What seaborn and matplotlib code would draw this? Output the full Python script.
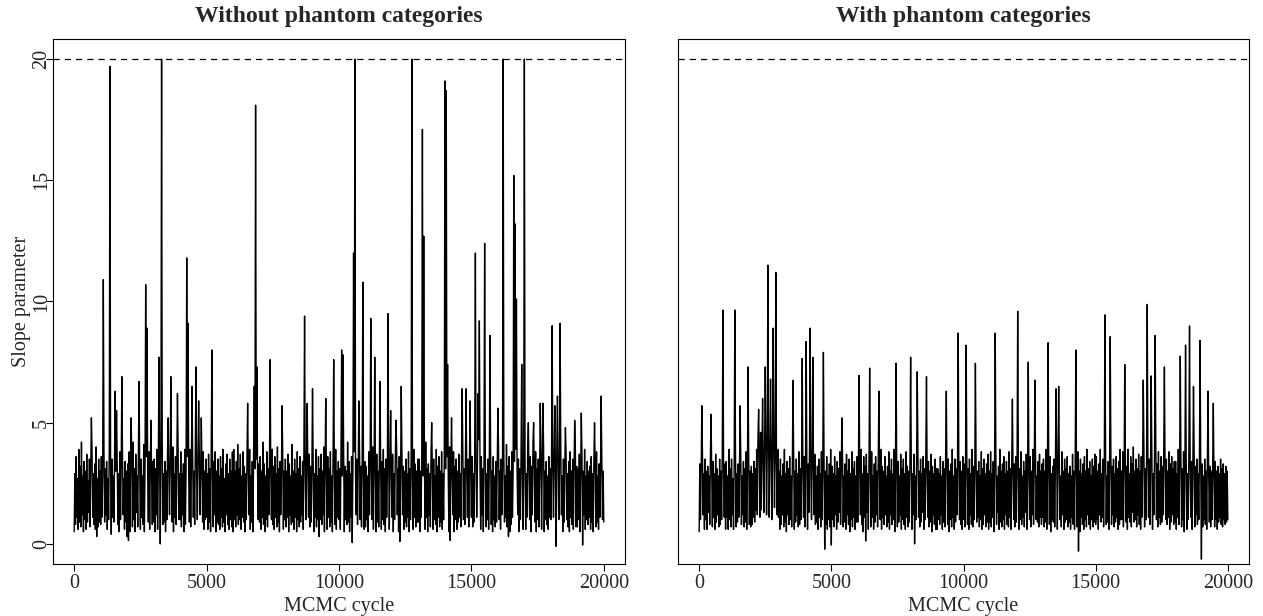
import numpy as np
import pandas as pd
import matplotlib
matplotlib.use("Agg")
import matplotlib.pyplot as plt
import seaborn as sns

# MCMC trace of the slope parameter, every 25 cycles
step = 25

# bulk of the chain (band values), 40 values per 1000 cycles
left_band = [
    0.5, 2.9, 0.8, 3.6, 1.1, 2.7, 0.6, 3.9, 0.9, 3.2, 0.7, 4.2, 1.2, 2.8, 0.5, 3.4, 1.0, 3.0, 0.6, 3.7,
    0.9, 2.6, 1.3, 3.5, 0.7, 3.1, 0.5, 3.8, 1.1, 2.9, 0.8, 3.3, 0.6, 4.0, 1.0, 2.7, 0.7, 3.5, 0.9, 3.0,
    0.8, 3.6, 1.1, 2.8, 0.5, 3.9, 0.9, 3.1, 1.2, 3.4, 0.6, 2.7, 1.0, 4.0, 0.7, 3.2, 0.4, 3.5, 1.1, 2.8,
    0.9, 3.7, 0.6, 3.0, 1.3, 3.3, 0.8, 2.9, 0.5, 3.8, 1.0, 3.1, 0.7, 3.6, 1.2, 2.7, 0.6, 3.4, 0.9, 3.0,
    0.3, 3.3, 0.9, 3.8, 0.5, 2.9, 1.2, 3.6, 0.7, 4.2, 1.0, 3.1, 0.5, 3.7, 1.3, 2.8, 0.7, 3.9, 1.0, 3.0,
    0.6, 3.5, 1.1, 2.8, 0.8, 4.1, 0.5, 3.2, 1.2, 3.6, 0.7, 2.9, 0.9, 3.8, 0.6, 3.3, 1.1, 2.7, 0.8, 3.4,
    0.9, 3.5, 0.5, 3.1, 1.2, 3.9, 0.6, 2.8, 1.0, 3.7, 0.5, 3.2, 1.1, 4.3, 0.8, 2.9, 0.9, 3.4, 0.5, 3.0,
    1.0, 3.8, 0.7, 2.8, 1.2, 3.5, 0.6, 3.1, 0.9, 4.0, 0.5, 2.9, 1.1, 3.6, 0.8, 3.2, 0.6, 3.8, 1.0, 2.9,
    1.0, 3.8, 0.7, 2.9, 1.2, 3.3, 0.5, 3.9, 0.8, 3.0, 1.3, 3.6, 0.6, 2.8, 0.9, 3.9, 0.7, 3.1, 0.5, 3.5,
    1.1, 3.0, 0.8, 4.1, 0.6, 2.8, 1.0, 3.4, 0.7, 3.7, 1.2, 2.9, 0.5, 3.3, 0.9, 3.8, 0.6, 3.0, 1.0, 3.5,
    1.1, 2.9, 0.6, 3.7, 0.9, 3.1, 0.5, 4.0, 1.0, 2.8, 0.7, 3.4, 1.2, 3.8, 0.5, 3.0, 0.9, 3.5, 0.8, 2.8,
    0.6, 3.6, 1.1, 3.1, 0.7, 3.9, 0.9, 2.7, 0.5, 3.3, 1.2, 3.7, 0.8, 2.9, 0.6, 3.5, 1.0, 3.0, 0.7, 3.8,
    0.5, 3.9, 1.0, 3.0, 0.7, 3.4, 1.2, 4.1, 0.8, 3.1, 1.0, 3.7, 0.6, 2.8, 1.1, 3.8, 0.9, 3.2, 0.5, 2.9,
    1.0, 3.6, 0.7, 3.0, 1.2, 3.9, 0.6, 2.8, 0.9, 3.4, 0.5, 3.7, 1.1, 3.1, 0.8, 3.5, 0.6, 2.9, 1.0, 3.3,
    0.9, 3.6, 0.6, 3.0, 1.1, 4.2, 0.8, 3.3, 0.5, 2.8, 1.0, 3.8, 0.7, 3.1, 1.2, 3.5, 0.5, 2.8, 1.0, 3.9,
    0.8, 3.2, 0.6, 3.6, 1.1, 2.9, 0.7, 4.0, 0.9, 3.1, 0.5, 3.4, 1.2, 2.8, 0.8, 3.7, 0.6, 3.0, 1.0, 3.5,
    0.7, 3.0, 1.1, 3.7, 0.5, 3.3, 1.2, 2.8, 0.8, 4.1, 0.9, 3.0, 0.6, 3.5, 1.1, 2.9, 0.5, 3.8, 1.0, 3.1,
    0.7, 3.6, 0.9, 2.8, 1.2, 3.4, 0.6, 3.9, 0.8, 3.0, 1.0, 3.5, 0.5, 2.9, 1.1, 3.7, 0.7, 3.2, 0.9, 3.0,
    0.9, 3.4, 0.5, 2.9, 1.1, 3.9, 0.7, 2.8, 1.0, 3.6, 0.3, 3.1, 1.0, 3.7, 0.8, 3.0, 1.2, 4.0, 0.5, 3.3,
    0.9, 2.9, 0.6, 3.6, 1.1, 3.1, 0.7, 3.8, 0.9, 2.8, 0.5, 3.5, 1.0, 3.2, 0.8, 3.9, 0.6, 3.0, 1.1, 3.4,
    1.0, 3.1, 0.6, 3.7, 0.9, 2.8, 1.2, 3.9, 0.5, 3.2, 1.0, 3.0, 0.8, 4.2, 0.9, 3.4, 0.5, 2.9, 1.1, 3.6,
    0.7, 3.1, 1.0, 3.8, 0.6, 2.8, 1.2, 3.5, 0.8, 3.0, 0.5, 3.9, 1.0, 3.2, 0.7, 3.6, 1.1, 2.9, 0.6, 3.4,
    0.7, 3.2, 1.0, 2.8, 0.5, 3.8, 1.2, 3.1, 0.8, 3.5, 1.0, 4.0, 0.6, 3.0, 1.1, 3.3, 0.5, 3.7, 0.9, 3.0,
    0.7, 3.6, 1.2, 2.9, 0.6, 3.4, 1.0, 3.9, 0.8, 3.1, 0.5, 3.5, 1.1, 2.8, 0.9, 3.8, 0.6, 3.2, 1.0, 3.0,
    1.1, 3.7, 0.5, 2.9, 1.0, 3.4, 0.7, 4.1, 1.2, 3.1, 0.5, 3.6, 1.0, 2.8, 0.8, 3.9, 1.2, 3.2, 0.6, 3.0,
    0.9, 3.5, 0.7, 2.9, 1.1, 3.8, 0.5, 3.1, 1.0, 3.6, 0.8, 2.8, 0.6, 3.9, 1.1, 3.3, 0.7, 3.0, 0.9, 3.5,
    0.9, 3.5, 0.5, 3.0, 1.1, 3.8, 0.8, 2.8, 1.0, 3.7, 0.6, 4.2, 1.1, 3.1, 0.5, 3.3, 1.2, 2.9, 0.7, 3.7,
    0.9, 3.0, 0.6, 3.5, 1.0, 2.8, 0.8, 3.9, 0.5, 3.2, 1.1, 3.6, 0.7, 3.0, 0.9, 3.8, 0.6, 2.9, 1.0, 3.4,
    1.0, 3.1, 0.6, 3.6, 1.2, 2.9, 0.5, 4.0, 1.0, 3.3, 0.8, 2.8, 1.2, 3.8, 0.5, 3.2, 1.0, 3.5, 0.6, 3.0,
    0.9, 3.7, 1.1, 2.9, 0.7, 3.4, 0.5, 3.9, 1.0, 3.1, 0.8, 3.6, 0.6, 2.8, 1.1, 3.5, 0.7, 3.2, 0.9, 3.0,
    1.1, 3.6, 0.7, 2.9, 0.9, 3.9, 0.5, 3.2, 1.1, 2.8, 0.8, 4.3, 1.0, 3.0, 0.6, 3.6, 1.2, 3.1, 0.5, 3.4,
    0.9, 3.8, 0.7, 2.9, 1.0, 3.5, 0.6, 3.1, 1.1, 3.9, 0.8, 3.0, 0.5, 3.6, 1.0, 2.8, 0.7, 3.4, 0.9, 3.2,
    0.8, 4.0, 1.0, 3.0, 0.6, 3.5, 1.2, 3.1, 0.5, 3.7, 0.9, 2.8, 1.1, 4.1, 0.7, 3.2, 1.0, 3.6, 0.5, 3.0,
    0.8, 3.8, 1.1, 2.9, 0.6, 3.4, 0.9, 3.9, 0.7, 3.0, 1.2, 3.5, 0.5, 3.1, 1.0, 3.7, 0.8, 2.9, 0.6, 3.3,
    0.9, 3.4, 0.6, 2.9, 1.1, 3.9, 0.8, 2.8, 1.0, 3.6, 0.5, 3.2, 1.2, 4.2, 0.7, 3.0, 0.9, 3.8, 0.5, 3.1,
    1.0, 3.5, 0.7, 2.9, 1.1, 3.7, 0.6, 3.3, 0.9, 4.0, 0.5, 3.0, 1.0, 3.4, 0.8, 2.8, 0.6, 3.6, 1.1, 3.1,
    1.0, 3.3, 0.4, 3.0, 1.1, 3.7, 0.7, 2.8, 0.9, 4.0, 0.5, 3.4, 1.0, 3.0, 0.8, 3.9, 1.2, 2.8, 0.5, 3.5,
    0.9, 3.1, 0.6, 3.7, 1.0, 2.9, 0.7, 3.4, 0.5, 3.8, 1.1, 3.0, 0.8, 3.5, 0.6, 2.9, 1.0, 3.9, 0.7, 3.2,
    0.7, 3.1, 1.0, 3.7, 0.5, 2.9, 0.9, 3.6, 0.4, 3.0, 1.2, 3.9, 0.6, 2.8, 1.0, 3.4, 0.8, 3.0, 1.1, 3.2,
    0.6, 3.6, 0.9, 2.9, 0.5, 3.5, 1.0, 3.1, 0.7, 3.8, 0.9, 2.8, 0.6, 3.3, 1.1, 3.0, 0.8, 3.5, 1.0, 3.0,
    0.9,
]

right_band = [
    0.5, 3.3, 1.0, 2.8, 0.7, 3.8, 1.2, 2.9, 0.6, 3.5, 1.0, 3.0, 0.6, 3.2, 1.3, 2.8, 0.8, 3.6, 0.9, 3.0,
    0.7, 3.4, 1.1, 2.9, 0.6, 3.7, 0.9, 3.1, 1.2, 2.8, 0.7, 3.5, 0.8, 3.0, 1.0, 3.9, 0.6, 2.9, 1.1, 3.3,
    0.6, 3.4, 1.1, 2.8, 0.6, 3.9, 1.0, 3.1, 0.7, 3.5, 1.2, 2.7, 0.6, 3.2, 1.0, 3.7, 0.7, 2.9, 0.9, 3.3,
    1.1, 3.0, 0.6, 3.6, 0.8, 2.8, 1.2, 3.4, 0.7, 3.1, 0.9, 3.8, 0.6, 2.9, 1.0, 3.5, 0.8, 3.0, 0.7, 3.2,
    0.8, 2.9, 1.1, 3.4, 0.9, 3.1, 1.4, 3.9, 1.2, 4.4, 1.6, 3.6, 1.1, 4.6, 1.4, 3.8, 1.0, 3.3, 1.3, 3.9,
    1.5, 4.2, 1.2, 3.7, 1.7, 4.5, 1.1, 3.5, 1.4, 4.0, 1.0, 3.6, 1.3, 4.3, 1.5, 3.8, 1.1, 3.4, 1.2, 3.9,
    1.1, 3.0, 0.6, 3.5, 0.8, 2.8, 1.2, 3.3, 0.7, 3.9, 0.9, 2.9, 0.5, 3.4, 1.2, 3.1, 0.8, 3.6, 1.0, 2.8,
    0.7, 3.2, 1.1, 3.7, 0.6, 3.0, 0.9, 3.5, 1.2, 2.9, 0.7, 3.8, 0.8, 3.1, 1.0, 3.4, 0.6, 2.9, 1.1, 3.6,
    0.7, 3.6, 1.1, 3.0, 0.6, 3.3, 1.3, 4.0, 0.8, 2.9, 1.0, 3.5, 0.4, 3.1, 1.2, 3.7, 0.8, 2.8, 0.9, 3.2,
    0.6, 3.5, 1.1, 2.9, 0.7, 3.8, 1.0, 3.1, 0.5, 3.4, 1.2, 3.0, 0.8, 3.6, 0.6, 2.8, 1.0, 3.3, 0.7, 3.9,
    0.3, 3.2, 1.0, 2.9, 0.7, 3.6, 1.2, 2.8, 0.6, 3.4, 0.9, 3.1, 1.3, 3.8, 0.8, 2.9, 1.1, 3.5, 0.7, 2.8,
    0.9, 3.3, 0.6, 3.7, 1.2, 3.0, 0.8, 3.5, 0.5, 2.9, 1.0, 3.8, 0.7, 3.1, 1.1, 3.4, 0.6, 2.8, 0.9, 3.6,
    0.9, 3.3, 0.6, 3.0, 1.2, 3.9, 0.8, 2.9, 0.5, 3.6, 1.1, 3.2, 0.8, 3.7, 1.3, 2.9, 0.6, 3.4, 1.0, 3.1,
    0.7, 3.8, 1.1, 2.8, 0.6, 3.3, 0.9, 3.6, 1.2, 3.0, 0.7, 3.5, 0.8, 2.9, 1.0, 3.9, 0.6, 3.2, 1.1, 3.0,
    0.8, 3.6, 1.2, 2.8, 0.7, 3.2, 0.9, 3.8, 0.6, 3.0, 1.2, 3.5, 0.8, 2.9, 1.0, 3.9, 0.5, 3.1, 1.1, 3.0,
    0.7, 3.4, 0.9, 2.8, 1.2, 3.7, 0.6, 3.1, 1.0, 3.5, 0.8, 2.9, 0.6, 3.8, 1.1, 3.2, 0.7, 3.0, 0.9, 3.6,
    0.8, 3.4, 0.6, 2.9, 1.2, 3.7, 0.8, 2.8, 1.0, 3.3, 0.5, 3.9, 1.1, 3.0, 0.7, 3.5, 0.9, 2.9, 1.3, 3.6,
    0.6, 3.1, 1.0, 3.8, 0.8, 2.8, 1.1, 3.4, 0.7, 3.0, 0.9, 3.7, 0.5, 3.2, 1.2, 2.9, 0.8, 3.5, 0.6, 3.1,
    0.6, 3.1, 1.0, 2.9, 0.8, 3.6, 1.2, 2.8, 0.6, 3.4, 0.9, 3.1, 0.7, 3.8, 1.1, 2.9, 0.8, 3.5, 0.5, 3.0,
    1.0, 3.3, 0.7, 3.9, 1.1, 2.8, 0.6, 3.5, 0.9, 3.1, 1.2, 3.7, 0.7, 2.9, 1.0, 3.4, 0.8, 3.0, 0.6, 3.6,
    1.0, 3.3, 0.7, 2.8, 1.1, 3.7, 0.8, 3.1, 0.6, 3.5, 1.2, 2.9, 0.8, 3.9, 0.7, 3.2, 1.0, 2.9, 0.6, 3.6,
    0.9, 3.0, 1.1, 3.4, 0.7, 2.8, 1.0, 3.8, 0.6, 3.1, 0.8, 3.5, 1.2, 2.9, 0.7, 3.3, 0.9, 3.7, 0.6, 3.0,
    0.9, 3.8, 0.7, 2.9, 1.1, 3.4, 0.5, 3.1, 1.0, 3.6, 0.8, 2.8, 1.3, 3.2, 0.6, 3.9, 0.9, 3.0, 0.7, 3.3,
    1.0, 3.6, 0.6, 2.9, 1.2, 3.4, 0.8, 3.0, 0.7, 3.8, 1.1, 3.1, 0.6, 3.5, 0.9, 2.8, 1.0, 3.3, 0.7, 3.6,
    0.9, 2.9, 1.2, 3.5, 0.6, 3.1, 1.0, 3.8, 0.8, 2.8, 1.1, 3.4, 0.7, 3.0, 1.3, 3.7, 0.6, 3.2, 0.9, 2.9,
    1.0, 3.6, 0.7, 3.0, 1.2, 3.9, 0.8, 3.1, 0.6, 3.5, 1.0, 2.8, 0.9, 3.4, 0.7, 3.7, 1.1, 3.0, 0.8, 3.3,
    1.1, 3.5, 0.7, 3.0, 0.9, 3.9, 0.6, 2.9, 1.2, 3.3, 0.8, 3.6, 0.5, 2.9, 1.0, 3.2, 0.9, 3.5, 0.7, 3.0,
    1.1, 3.7, 0.6, 3.1, 0.8, 3.4, 1.0, 2.8, 0.7, 3.8, 1.2, 3.0, 0.6, 3.5, 0.9, 3.1, 1.0, 3.6, 0.7, 2.9,
    0.9, 3.2, 0.6, 2.8, 1.1, 3.7, 0.8, 3.0, 0.6, 3.4, 1.0, 2.9, 0.7, 3.8, 0.9, 3.0, 0.5, 3.5, 1.1, 2.9,
    0.8, 3.3, 0.6, 3.6, 1.0, 3.0, 0.7, 3.9, 1.2, 3.1, 0.8, 3.4, 0.6, 2.8, 1.0, 3.5, 0.7, 3.2, 0.9, 3.7,
    0.8, 3.6, 1.0, 3.0, 0.6, 3.3, 1.2, 3.9, 0.9, 2.9, 1.1, 3.5, 0.7, 3.1, 1.3, 3.7, 0.8, 2.8, 0.9, 3.4,
    0.6, 3.0, 1.0, 3.8, 0.8, 3.2, 1.2, 3.5, 0.7, 2.9, 0.9, 3.6, 1.1, 3.1, 0.6, 3.4, 0.8, 3.9, 1.0, 3.0,
    1.0, 3.8, 0.7, 3.0, 1.2, 3.5, 0.9, 3.2, 0.6, 3.9, 1.1, 2.9, 0.9, 3.6, 0.7, 3.3, 1.3, 4.0, 0.9, 3.0,
    1.0, 3.5, 0.7, 3.1, 1.2, 3.7, 0.8, 3.0, 0.6, 3.6, 1.1, 3.3, 0.9, 3.9, 0.7, 3.1, 1.0, 3.4, 0.8, 3.7,
    1.1, 3.5, 0.8, 3.1, 1.0, 3.7, 0.6, 2.9, 1.2, 3.6, 0.9, 4.1, 1.0, 3.3, 0.7, 3.8, 1.1, 3.0, 0.8, 3.6,
    0.9, 3.2, 1.2, 3.9, 0.7, 3.1, 1.0, 3.5, 0.8, 3.0, 1.1, 3.8, 0.6, 3.3, 0.9, 3.6, 1.2, 3.1, 0.8, 3.4,
    0.9, 3.4, 0.6, 2.9, 1.1, 3.9, 0.8, 3.2, 1.3, 3.6, 0.7, 3.1, 1.0, 3.8, 0.5, 3.0, 0.9, 3.5, 0.6, 2.9,
    1.0, 3.7, 0.8, 3.1, 1.1, 3.4, 0.6, 3.0, 0.9, 3.8, 0.7, 3.2, 1.2, 3.5, 0.8, 2.9, 1.0, 3.6, 0.6, 3.1,
    0.9, 3.3, 0.7, 2.8, 1.0, 3.5, 0.8, 3.0, 0.6, 3.4, 1.1, 2.9, 0.9, 3.2, 0.7, 3.0, 1.0, 3.1, 0.8, 2.8,
    0.7, 3.4, 1.0, 3.0, 0.6, 3.2, 0.9, 2.9, 1.1, 3.5, 0.8, 3.1, 0.7, 3.3, 1.0, 2.9, 0.8, 3.2, 0.9, 3.0,
    1.0,
]

# spikes and dips that stand out of the band (cycle, value)
left_extreme_cycle = [
    650, 850, 1100, 1350, 1550, 1600, 1800, 2050, 2150, 2450, 2700, 2750, 2900, 3200, 3250, 3300,
    3550, 3650, 3900, 4250, 4300, 4450, 4600, 4700, 4800, 5200, 6550, 6800, 6850, 6900, 7400, 7850,
    8700, 8800, 9000, 9500, 9800, 10100, 10150, 10500, 10550, 10600, 10750, 10900, 11200, 11350,
    11550, 11850, 11950, 12150, 12300, 12350, 12750, 13150, 13200, 13500, 14000, 14050, 14100, 14200,
    14250, 14650, 14800, 14950, 15150, 15250, 15300, 15500, 15700, 16000, 16200, 16400, 16600, 16650,
    16700, 16900, 17000, 17150, 17350, 17600, 17700, 18050, 18150, 18200, 18250, 18350, 18550, 18900,
    19150, 19200, 19650, 19900,
]
left_extreme_value = [
    5.2, 0.3, 10.9, 19.7, 6.3, 5.5, 6.9, 0.14, 5.2, 6.7, 10.7, 8.9, 5.1, 7.7, 0.0, 20.0,
    5.2, 6.9, 6.2, 11.8, 9.1, 6.5, 7.3, 5.9, 5.2, 8.0, 5.8, 6.5, 18.1, 7.3, 7.6, 5.7,
    9.4, 5.8, 6.4, 6.0, 7.6, 8.0, 7.8, 0.05, 12.0, 20.0, 5.9, 10.8, 9.3, 7.7,
    6.7, 9.5, 5.5, 5.1, 0.1, 6.5, 20.0, 17.1, 12.7, 5.0, 19.1, 18.7, 7.4, 0.14,
    5.2, 6.4, 6.4, 5.9, 12.0, 6.2, 9.2, 12.4, 8.6, 5.6, 20.0, 0.3, 15.2, 13.2,
    10.1, 7.4, 20.0, 5.0, 5.0, 5.8, 5.8, 9.0, 5.7, -0.1, 6.1, 9.1, 4.8, 5.1,
    5.4, -0.05, 5.0, 6.1,
]

right_extreme_cycle = [
    100, 450, 900, 1350, 1550, 1850, 2250, 2400, 2500, 2600, 2700, 2800, 2900, 3550, 3900, 4050,
    4200, 4300, 4700, 4750, 5000, 5400, 6050, 6300, 6450, 6800, 7450, 8000, 8150, 8250, 8600, 9350,
    9800, 10100, 10450, 11200, 11850, 12050, 12450, 12700, 13200, 13500, 13600, 14250, 14350, 15350,
    15550, 16100, 16800, 16950, 17100, 17250, 17600, 18200, 18400, 18550, 18700, 18950, 19000, 19250,
    19450,
]
right_extreme_value = [
    5.7, 5.35, 9.65, 9.65, 5.7, 7.3, 5.55, 6.0, 7.3, 11.5, 6.8, 8.9, 11.2, 6.75, 7.65, 8.35,
    8.9, 7.7, 7.9, -0.22, -0.05, 5.2, 6.95, 0.12, 7.25, 6.3, 7.45, 7.7, 0.0, 7.1, 6.9, 6.3,
    8.7, 8.2, 7.45, 8.7, 5.97, 9.6, 7.5, 6.76, 8.3, 6.4, 6.5, 8.0, -0.3, 9.45,
    8.55, 7.4, 6.76, 9.88, 6.93, 8.6, 7.3, 7.75, 8.2, 8.99, 6.5, 8.4, -0.63, 6.3,
    5.8,
]

panel_titles = ["Without phantom categories", "With phantom categories"]
upper_bound = 20


def build_trace(band, ext_cycle, ext_value):
    vals = np.array(band, dtype=float)
    for c, v in zip(ext_cycle, ext_value):
        vals[c // step] = v
    return pd.DataFrame({"cycle": np.arange(len(vals)) * step, "slope": vals})


traces = [
    build_trace(left_band, left_extreme_cycle, left_extreme_value),
    build_trace(right_band, right_extreme_cycle, right_extreme_value),
]

sns.set_style("ticks")
plt.rcParams["font.family"] = ["Liberation Serif", "DejaVu Serif"]
# dense near-vertical zigzags must not be merged by path simplification
plt.rcParams["path.simplify"] = False

W, H = 1263, 616
fig = plt.figure(figsize=(W / 100, H / 100), dpi=100)
ax_left = fig.add_axes([53 / W, 52 / H, 572 / W, 525 / H])
ax_right = fig.add_axes([678 / W, 52 / H, 571 / W, 525 / H])

for ax, df, title in zip([ax_left, ax_right], traces, panel_titles):
    sns.lineplot(data=df, x="cycle", y="slope", ax=ax, color="black",
                 linewidth=1.0, estimator=None, sort=False)
    ax.axhline(upper_bound, color="black", linewidth=0.9, linestyle=(0, (5, 4)))
    ax.set_xlim(-800, 20800)
    ax.set_ylim(-0.83, 20.83)
    ax.set_xticks([0, 5000, 10000, 15000, 20000])
    ax.set_title(title, fontsize=17, fontweight="bold", pad=12)
    ax.set_xlabel("MCMC cycle", fontsize=14.5, labelpad=3)
    for s in ax.spines.values():
        s.set_color("black")
        s.set_linewidth(0.8)
    ax.tick_params(axis="both", direction="out", length=5, width=0.8,
                   color="black", labelsize=14.5, pad=2)

ax_left.set_yticks([0, 5, 10, 15, 20])
ax_left.tick_params(axis="y", pad=-3.5)
ax_left.set_ylabel("Slope parameter", fontsize=14.5, labelpad=1)
for lab in ax_left.get_yticklabels():
    lab.set_rotation(90)
    lab.set_va("center")

ax_right.set_yticks([])
ax_right.set_ylabel("")

fig.savefig("out.png", dpi=100)
